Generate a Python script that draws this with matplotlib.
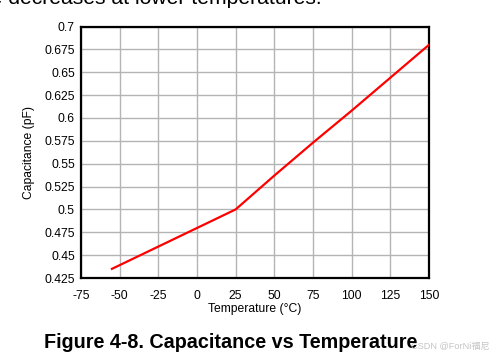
import matplotlib
matplotlib.use("Agg")
import matplotlib.pyplot as plt

temperature = [-55, 25, 50, 75, 100, 125, 150]
capacitance = [0.435, 0.500, 0.537, 0.573, 0.608, 0.644, 0.680]

x_ticks = [-75, -50, -25, 0, 25, 50, 75, 100, 125, 150]
y_ticks = [0.425, 0.45, 0.475, 0.5, 0.525, 0.55, 0.575, 0.6, 0.625, 0.65, 0.675, 0.7]
y_tick_labels = ["0.425", "0.45", "0.475", "0.5", "0.525", "0.55", "0.575", "0.6",
                 "0.625", "0.65", "0.675", "0.7"]

plt.rcParams['font.family'] = ['Liberation Sans', 'DejaVu Sans']

fig = plt.figure(figsize=(4.92, 3.61), dpi=100)
ax = fig.add_axes([81/492, 1-278/361, (429-81)/492, (278-26.5)/361])

ax.plot(temperature, capacitance, color='#ff0000', lw=1.6, zorder=3)

ax.set_xlim(-75, 150)
ax.set_ylim(0.425, 0.7)
ax.set_xticks(x_ticks)
ax.set_xticklabels([str(v) for v in x_ticks])
ax.set_yticks(y_ticks)
ax.set_yticklabels(y_tick_labels)
ax.tick_params(length=0, labelsize=8.7, pad=4.5, colors='black')
ax.tick_params(axis='x', pad=8.5)
ax.grid(True, color='#b4b4b4', lw=1.0)
ax.set_axisbelow(True)
for s in ax.spines.values():
    s.set_linewidth(1.6)
    s.set_color('black')

ax.set_xlabel("Temperature (°C)", fontsize=8.7, labelpad=1)
ax.set_ylabel("Capacitance (pF)", fontsize=8.7, labelpad=7)

fig.text(322/492, 1-3.5/361, "Capacitance decreases at lower temperatures.",
         ha='right', va='baseline', fontsize=15.2, color='black')
fig.text(0.468, 1-342/361, "Figure 4-8. Capacitance vs Temperature",
         ha='center', va='center', fontsize=14.2, fontweight='bold')
fig.text(0.996, 1-346/361, "CSDN @ForNi福尼", ha='right', va='center',
         fontsize=6.6, color='#c4c4c4',
         family=['Liberation Sans', 'Noto Sans CJK SC'])

fig.savefig("out.png", dpi=100)
